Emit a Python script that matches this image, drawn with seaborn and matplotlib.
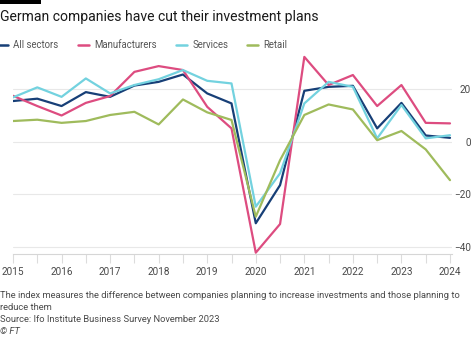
import numpy as np
import pandas as pd
import matplotlib
matplotlib.use("Agg")
import matplotlib.pyplot as plt
from matplotlib.ticker import MultipleLocator
import seaborn as sns

# ---- data (half-yearly, 2015 .. 2024) ----
periods = [2015.0, 2015.5, 2016.0, 2016.5, 2017.0, 2017.5, 2018.0, 2018.5, 2019.0, 2019.5,
           2020.0, 2020.5, 2021.0, 2021.5, 2022.0, 2022.5, 2023.0, 2023.5, 2024.0]
all_sectors = [15.5, 16.4, 13.6, 18.9, 17.1, 21.4, 22.8, 25.6, 18.4, 14.6,
               -31.0, -16.5, 19.4, 20.9, 21.3, 5.1, 14.8, 2.4, 1.5]
manufacturers = [17.5, 13.6, 10.0, 14.8, 17.4, 26.6, 28.8, 27.3, 13.3, 5.1,
                 -42.2, -31.3, 32.3, 21.6, 25.4, 13.6, 21.6, 7.2, 7.0]
services = [16.9, 20.7, 17.1, 24.1, 18.4, 21.6, 23.8, 27.3, 23.2, 22.2,
            -24.7, -12.0, 14.6, 22.8, 20.9, 1.3, 14.0, 1.3, 2.5]
retail = [7.9, 8.4, 7.2, 7.9, 10.2, 11.4, 6.6, 16.1, 11.2, 8.3,
          -28.5, -7.0, 10.2, 14.2, 12.3, 0.6, 4.1, -2.9, -14.6]

series_names = ["All sectors", "Manufacturers", "Services", "Retail"]
series_colors = ["#173f77", "#dd4c80", "#73d2df", "#9fbb5c"]
year_ticks = list(range(2015, 2025))
y_ticks = [-40, -20, 0, 20]

df = pd.DataFrame({
    "period": periods * 4,
    "value": all_sectors + manufacturers + services + retail,
    "series": sum([[n] * len(periods) for n in series_names], []),
})

sns.set_theme(style="white")
plt.rcParams["font.family"] = ["Roboto", "DejaVu Sans"]

W, H = 474, 338
fig = plt.figure(figsize=(W / 100, H / 100), dpi=100)
fig.patch.set_facecolor("white")

# axes: x from 13px to 452px, y from 254px (bottom) to 49.8px (top)
left, right, top_px, bot_px = 13, 452, 49.8, 254
ax = fig.add_axes([left / W, (H - bot_px) / H, (right - left) / W, (bot_px - top_px) / H])
ax.set_facecolor("white")

sns.lineplot(data=df, x="period", y="value", hue="series", hue_order=series_names,
             palette=dict(zip(series_names, series_colors)), linewidth=1.6,
             legend=False, ax=ax, zorder=3)

ax.set_xlim(2015, 2024 + 2 / 48.56)
ax.set_ylim(-42.7, 35)
ax.set_xlabel("")
ax.set_ylabel("")

ax.set_xticks(year_ticks)
ax.set_xticklabels([str(y) for y in year_ticks])
ax.xaxis.set_minor_locator(MultipleLocator(0.5))
ax.tick_params(axis="x", which="both", direction="out", length=6.5, width=0.8,
               color="#dcdcdc", bottom=True, pad=3, labelsize=7.2, labelcolor="#4a4a4a")

ax.set_yticks(y_ticks)
ax.yaxis.tick_right()
ax.tick_params(axis="y", which="both", length=0, pad=13.7, labelsize=7.2,
               labelcolor="#4a4a4a")
for lab in ax.get_yticklabels():
    lab.set_horizontalalignment("right")
ax.grid(axis="y", color="#e8e8e8", linewidth=0.8, zorder=0)
ax.grid(axis="x", visible=False)

for s in ["top", "left", "right"]:
    ax.spines[s].set_visible(False)
ax.spines["bottom"].set_color("#d6d6d6")
ax.spines["bottom"].set_linewidth(0.8)

# black bar at top-left
fig.add_artist(plt.Rectangle((0, 1 - 3.5 / H), 41 / W, 3.5 / H, transform=fig.transFigure,
                             color="black", lw=0))

# title
fig.text(0, 1 - 16.5 / H, "German companies have cut their investment plans",
         fontsize=10.1, color="#1a1a1a", ha="left", va="center")

# legend
handles = [plt.Line2D([], [], color=c, lw=1.8) for c in series_colors]
fig.legend(handles, series_names, loc="center left", bbox_to_anchor=(-0.006, 1 - 45 / H),
           ncol=4, frameon=False, fontsize=6.9, handlelength=1.15, handletextpad=0.55,
           columnspacing=2.0, labelcolor="#555555", borderaxespad=0, borderpad=0)

# footnotes
foot = [
    ("The index measures the difference between companies planning to increase investments and those planning to", 296, "normal"),
    ("reduce them", 308, "normal"),
    ("Source: Ifo Institute Business Survey November 2023", 320, "normal"),
    ("© FT", 331.5, "italic"),
]
for txt, ypx, st in foot:
    fig.text(0, 1 - ypx / H, txt, fontsize=6.75, color="#4a4a4a", ha="left", va="center",
             style=st)

fig.savefig("out.png", dpi=100, facecolor="white")
